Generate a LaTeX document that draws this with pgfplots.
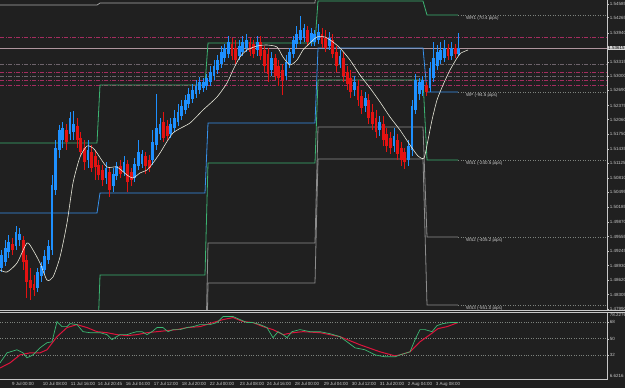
\documentclass[border=0pt]{standalone}
\usepackage{fontspec}
\setmainfont{Liberation Sans}
\usepackage{pgfplots}
\pgfplotsset{compat=1.18}
\usepackage{pgfplotstable}

\definecolor{bg}{RGB}{32,32,32}
\definecolor{cblue}{RGB}{30,144,255}
\definecolor{cred}{RGB}{228,18,18}
\definecolor{maline}{RGB}{232,232,218}
\definecolor{pgreen}{RGB}{60,179,113}
\definecolor{pblue}{RGB}{55,145,235}
\definecolor{pgray}{RGB}{140,140,140}
\definecolor{pgraylt}{RGB}{170,170,170}
\definecolor{dotc}{RGB}{125,130,125}
\definecolor{lbl}{RGB}{200,200,200}
\definecolor{border}{RGB}{200,200,200}
\definecolor{pricel}{RGB}{175,150,158}
\definecolor{maroon}{RGB}{165,45,95}
\definecolor{dgray}{RGB}{110,100,108}
\definecolor{sgreen}{RGB}{60,185,115}
\definecolor{sred}{RGB}{220,20,60}

\newcommand\tinyf{\fontsize{4.5}{5.2}\selectfont}

% candles in chart pixel units (x: bar position, y: price level, downward)
\pgfplotstableread{
x hi top bot lo
1.5 250 255 268 272
5.1 240 248 262 266
8.7 235 242 252 258
15.9 226 232 246 250
19.5 228 234 240 246
37.5 268 272 288 292
41.1 262 266 276 282
44.7 250 256 270 274
48.3 240 246 260 264
51.9 175 185 250 255
55.5 140 148 190 195
59.1 125 130 150 158
62.7 122 128 140 148
69.9 112 118 134 140
73.5 111 124 132 140
87.9 140 150 160 168
105.9 162 168 178 184
113.1 168 174 186 192
116.7 162 166 176 180
123.9 156 162 172 176
134.7 158 164 178 182
138.3 140 152 166 170
141.9 150 154 164 168
152.7 130 142 160 165
156.3 94 128 145 150
159.9 118 124 134 140
170.7 118 124 134 138
174.3 110 118 128 132
177.9 104 112 122 126
181.5 100 106 116 120
185.1 95 100 110 114
188.7 88 94 104 108
192.3 84 90 99 103
195.9 80 86 94 98
199.5 77 82 90 94
203.1 78 82 88 92
206.7 74 78 86 90
210.3 66 72 82 86
213.9 60 66 76 80
217.5 55 60 70 74
221.1 46 52 64 68
224.7 44 48 58 62
228.3 36 42 54 58
239.1 40 46 56 60
242.7 36 42 52 56
246.3 34 40 48 52
257.1 36 42 50 56
271.5 52 58 70 76
285.9 55 62 76 80
289.5 48 52 64 68
293.1 36 40 54 58
296.7 26 34 44 48
300.3 16 30 40 44
303.9 24 28 38 42
311.1 28 33 42 46
314.7 30 34 42 46
318.3 24 32 40 44
329.1 32 38 46 50
339.9 50 56 64 68
354.3 76 82 90 96
365.1 92 98 106 112
379.5 116 122 130 136
393.9 128 136 146 152
408.3 140 146 160 166
411.9 100 106 150 156
415.5 74 80 110 114
419.1 78 82 94 100
422.7 76 80 90 96
429.9 62 68 88 92
433.5 42 58 78 82
437.1 45 52 66 70
440.7 42 50 60 64
444.3 40 48 58 62
451.5 42 48 56 60
458.7 33 48 54 56
}\upc

\pgfplotstableread{
x hi top bot lo
12.3 238 244 250 255
23.1 236 240 262 270
26.7 255 260 282 298
30.3 268 280 288 300
33.9 275 284 290 296
66.3 124 130 142 150
77.1 118 126 140 148
80.7 132 138 152 156
84.3 140 148 162 170
91.5 145 152 168 172
95.1 150 156 167 180
98.7 160 165 175 180
102.3 165 170 180 186
109.5 168 172 190 197
120.3 160 166 174 178
127.5 160 164 182 192
131.1 168 172 180 186
145.5 152 156 166 174
149.1 155 160 168 172
163.5 112 122 138 142
167.1 120 126 136 140
231.9 38 44 56 60
235.5 40 48 60 64
249.9 38 42 52 56
253.5 40 44 54 58
260.7 36 42 56 60
264.3 46 50 66 72
267.9 48 54 74 82
275.1 54 58 76 80
278.7 60 66 78 86
282.3 64 70 80 95
307.5 26 30 42 46
321.9 28 34 44 48
325.5 30 38 48 52
332.7 34 40 54 58
336.3 46 52 66 72
343.5 52 58 76 82
347.1 66 72 84 90
350.7 70 78 92 98
357.9 80 86 100 106
361.5 90 96 108 114
368.7 94 100 118 124
372.3 104 112 124 130
375.9 110 118 132 138
383.1 116 124 140 146
386.7 128 134 146 152
390.3 132 138 148 154
397.5 134 140 154 160
401.1 142 148 160 166
404.7 148 152 162 169
426.3 82 85 92 96
447.9 44 48 56 60
455.1 44 48 54 58
}\downc

\begin{document}
\begin{tikzpicture}
\useasboundingbox (0,0) rectangle (625bp,-388bp);
\fill[bg] (0,0) rectangle (625bp,-388bp);

% ---------------- main price panel ----------------
\begin{axis}[at={(0,0)}, anchor=north west, scale only axis,
  width=607bp, height=310bp,
  xmin=0, xmax=607, ymin=0, ymax=310, y dir=reverse,
  clip mode=individual,
  axis line style={draw=none},
  xtick=\empty,
  ytick pos=right, yticklabel pos=right,
  ytick={4,17.5,33,62,76,90,105.5,119.5,134,149,163,178,192,207,222,236.5,251,265.5,280,294.5,309},
  yticklabels={1.54585,1.54265,1.53940,1.53315,1.53000,1.52690,1.52375,1.52060,1.51750,1.51435,1.51125,1.50810,1.50495,1.50185,1.49870,1.49555,1.49245,1.48930,1.48620,1.48305,1.47990},
  yticklabel style={font=\tinyf, text=lbl, inner sep=0.6bp},
  major tick length=2bp, tick align=outside, tick style={draw=border, line width=0.4bp},
]
% horizontal level lines
\addplot[maroon, line width=0.6bp, dash pattern=on 4bp off 1.5bp on 1bp off 1.5bp] coordinates {(0,37) (607,37)};
\addplot[dgray, line width=0.6bp, dash pattern=on 4bp off 1.5bp on 1bp off 1.5bp] coordinates {(0,64) (607,64)};
\addplot[maroon, line width=0.6bp, dash pattern=on 4bp off 1.5bp on 1bp off 1.5bp] coordinates {(0,72) (607,72)};
\addplot[dgray, line width=0.6bp, dash pattern=on 4bp off 1.5bp on 1bp off 1.5bp] coordinates {(0,76) (607,76)};
\addplot[maroon, line width=0.6bp, dash pattern=on 4bp off 1.5bp on 1bp off 1.5bp] coordinates {(0,80) (607,80)};
\addplot[maroon, line width=0.6bp, dash pattern=on 4bp off 1.5bp on 1bp off 1.5bp] coordinates {(0,85) (607,85)};
\addplot[pricel, line width=0.5bp] coordinates {(0,48) (607,48)};

% weekly pivot step lines
\addplot[pgraylt, line width=0.7bp] coordinates {(0,5) (97,5) (100,3) (315,3) (318,-40)};
\addplot[pgreen, line width=0.8bp] coordinates {(0,143) (97,143) (100,85) (205,85) (208,43) (315,43) (318,1) (423,1) (427,15) (458,15)};
\addplot[pblue, line width=0.8bp] coordinates {(0,213) (97,213) (100,193) (205,193) (208,123) (315,123) (318,48) (423,48) (427,92) (458,92)};
\addplot[pgreen, line width=0.8bp] coordinates {(97,360) (100,275) (205,275) (208,163) (315,163) (318,80) (423,80) (427,160) (458,160)};
\addplot[pgray, line width=0.8bp] coordinates {(205,383) (208,243) (315,243) (318,127) (423,127) (427,237) (458,237)};
\addplot[pgray, line width=0.8bp] coordinates {(205,450) (208,283) (315,283) (318,159) (423,159) (427,305) (458,305)};

% dotted extensions
\addplot[dotc, line width=0.5bp, dotted] coordinates {(458,15) (607,15)};
\addplot[dotc, line width=0.5bp, dotted] coordinates {(458,92) (607,92)};
\addplot[dotc, line width=0.5bp, dotted] coordinates {(458,160) (607,160)};
\addplot[dotc, line width=0.5bp, dotted] coordinates {(458,237) (607,237)};
\addplot[dotc, line width=0.5bp, dotted] coordinates {(458,305) (607,305)};

% candles: wicks then bodies
\addplot[cblue, line width=0.6bp, quiver={u=0, v=\thisrow{lo}-\thisrow{hi}}] table[x=x, y=hi] {\upc};
\addplot[cred, line width=0.6bp, quiver={u=0, v=\thisrow{lo}-\thisrow{hi}}] table[x=x, y=hi] {\downc};
\addplot[cblue, line width=2.8bp, quiver={u=0, v=\thisrow{bot}-\thisrow{top}}] table[x=x, y=top] {\upc};
\addplot[cred, line width=2.8bp, quiver={u=0, v=\thisrow{bot}-\thisrow{top}}] table[x=x, y=top] {\downc};

% moving average
\addplot[maline, line width=0.6bp, smooth, tension=0.4] coordinates {
(0,270)(7,272)(17,263)(27,243)(33,250)(40,263)(47,280)(53,277)(60,257)(67,223)(73,183)(80,157)(87,146)(93,148)(97,153)(107,167)(117,167)(127,175)(133,178)(140,173)(147,170)(153,163)(160,153)(173,133)(190,123)(203,110)(217,97)(227,83)(233,70)(240,57)(247,50)(257,46)(267,45)(277,47)(283,57)(290,65)(297,60)(303,50)(310,43)(317,37)(325,37)(333,42)(340,48)(350,60)(360,75)(370,88)(380,102)(390,117)(400,130)(410,145)(418,156)(424,158)(428,140)(432,120)(437,100)(443,85)(450,70)(457,58)(461,53)(468,50)};

% level labels
\node[anchor=west, font=\tinyf, text=lbl, inner sep=0pt] at (axis cs:466,18.5) {WR1 (70.4 pips)};
\node[anchor=west, font=\tinyf, text=lbl, inner sep=0pt] at (axis cs:466,95.5) {WP (-94.5 pips)};
\node[anchor=west, font=\tinyf, text=lbl, inner sep=0pt] at (axis cs:466,163.5) {WS1 (-240.5 pips)};
\node[anchor=west, font=\tinyf, text=lbl, inner sep=0pt] at (axis cs:466,240) {WS2 (-405.2 pips)};
\node[anchor=west, font=\tinyf, text=lbl, inner sep=0pt] at (axis cs:466,308) {WS3 (-551.0 pips)};
% current price box
\node[anchor=west, font=\tinyf, fill={rgb,255:red,215;green,215;blue,215}, text=black, inner xsep=0.6bp, inner ysep=0.6bp] at (axis cs:607.5,48) {1.53615};
\end{axis}

% ---------------- oscillator panel ----------------
\begin{axis}[at={(0,-312.5bp)}, anchor=north west, scale only axis,
  width=607bp, height=66.5bp,
  xmin=0, xmax=607, ymin=6.6216, ymax=78.2276,
  clip mode=individual,
  axis line style={draw=none},
  ytick={32,50,68}, yticklabels={32,50,68},
  ytick pos=right, yticklabel pos=right,
  ymajorgrids, grid style={dotted, dotc, line width=0.5bp},
  yticklabel style={font=\tinyf, text=lbl, inner sep=0.6bp},
  major tick length=2bp, tick align=outside, tick style={draw=border, line width=0.4bp},
  xtick={23,55,83,110,138,166,194,222,252,279,307,336,364,392,420,448},
  xticklabels={9 Jul 00:00,10 Jul 08:00,11 Jul 16:00,14 Jul 20:45,16 Jul 04:00,17 Jul 12:00,18 Jul 20:00,22 Jul 00:00,23 Jul 08:00,24 Jul 16:00,28 Jul 00:00,29 Jul 04:00,30 Jul 12:00,31 Jul 20:00,2 Aug 04:00,3 Aug 08:00},
  xticklabel style={font=\tinyf, text=lbl, inner sep=0.8bp},
  xtick style={draw=none},
]
\addplot[sred, line width=1bp] coordinates {
(0,18.5)(10,24.0)(20,32.6)(30,34.8)(40,34.8)(47,38.1)(57,52.2)(67,62.0)(77,65.2)(87,62.0)(97,57.6)(107,56.5)(117,54.4)(127,53.3)(137,54.4)(147,56.5)(157,57.6)(167,58.7)(177,59.8)(187,62.0)(200,63.0)(213,67.4)(223,70.6)(233,72.8)(243,68.5)(253,67.4)(263,63.0)(273,59.8)(283,54.4)(293,56.5)(303,57.6)(320,56.5)(340,52.2)(360,43.5)(380,35.9)(395,31.5)(400,32.6)(410,35.9)(420,46.7)(430,54.4)(438,60.9)(447,63.0)(458,67.4)};
\addplot[sgreen, line width=0.7bp] coordinates {
(0,24.0)(7,34.8)(17,38.1)(23,34.8)(27,29.4)(33,32.6)(40,40.2)(47,45.7)(52,46.7)(57,68.5)(62,63.0)(67,63.0)(70,66.3)(77,65.2)(83,57.6)(90,56.5)(100,56.5)(107,54.4)(112,48.9)(115,51.1)(120,54.4)(127,54.4)(133,56.5)(137,57.6)(142,57.6)(147,54.4)(152,57.6)(157,62.0)(163,62.0)(168,57.6)(173,59.8)(180,59.8)(187,62.0)(193,63.0)(200,65.2)(210,65.2)(217,67.4)(223,73.9)(233,73.9)(240,70.6)(247,67.4)(253,67.4)(260,65.2)(267,62.0)(273,51.1)(278,57.6)(283,54.4)(287,51.1)(292,57.6)(300,59.8)(310,57.6)(320,57.6)(330,55.4)(340,52.2)(347,46.7)(355,40.2)(365,38.1)(375,32.6)(385,30.5)(395,30.5)(400,32.6)(410,35.9)(415,48.9)(420,59.8)(425,59.8)(432,57.6)(437,64.1)(443,66.3)(450,67.4)(458,67.4)};
\node[anchor=west, font=\tinyf, text=lbl, inner sep=0.6bp] at (axis cs:609,75.2) {78.2276};
\node[anchor=west, font=\tinyf, text=lbl, inner sep=0.6bp] at (axis cs:609,10.0) {6.6216};
\end{axis}

% panel borders
\draw[border, line width=0.6bp] (607bp,0) -- (607bp,-310bp);
\draw[border, line width=0.6bp] (0,-310bp) -- (625bp,-310bp);
\draw[border, line width=0.6bp] (0,-312.5bp) -- (625bp,-312.5bp);
\draw[border, line width=0.6bp] (607bp,-312.5bp) -- (607bp,-379bp) -- (0,-379bp);
\end{tikzpicture}
\end{document}
